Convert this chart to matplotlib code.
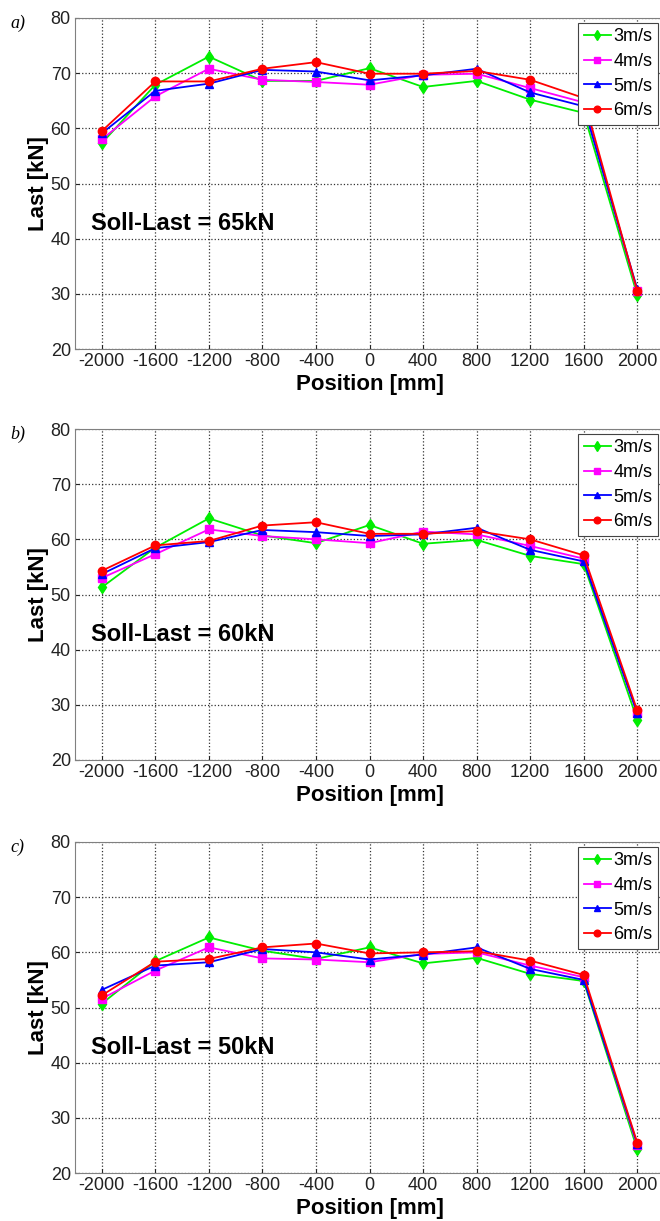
import numpy as np
import matplotlib.pyplot as plt

plt.rcParams['font.family'] = ['Liberation Sans', 'DejaVu Sans']
plt.rcParams['axes.unicode_minus'] = False

# Positionen entlang der Messstrecke [mm]
position = [-2000, -1600, -1200, -800, -400, 0, 400, 800, 1200, 1600, 2000]
speeds = ['3m/s', '4m/s', '5m/s', '6m/s']

# a) Soll-Last 65 kN
last_a_3 = [57.3, 67.9, 73.0, 68.6, 68.6, 70.9, 67.5, 68.6, 65.2, 62.8, 29.8]
last_a_4 = [58.0, 65.8, 70.8, 68.8, 68.4, 67.9, 69.7, 69.9, 67.3, 64.7, 30.5]
last_a_5 = [59.1, 66.8, 68.1, 70.6, 70.3, 68.7, 69.6, 70.8, 66.5, 64.0, 30.9]
last_a_6 = [59.5, 68.5, 68.5, 70.8, 72.0, 69.9, 69.9, 70.4, 68.8, 65.5, 30.6]

# b) Soll-Last 60 kN
last_b_3 = [51.3, 58.5, 63.8, 60.7, 59.3, 62.6, 59.2, 59.9, 57.0, 55.5, 27.3]
last_b_4 = [53.0, 57.3, 61.8, 60.6, 60.0, 59.3, 61.4, 60.9, 58.8, 56.5, 28.5]
last_b_5 = [53.7, 58.4, 59.5, 61.7, 61.3, 60.6, 60.9, 62.1, 58.1, 56.0, 28.5]
last_b_6 = [54.3, 58.9, 59.7, 62.5, 63.1, 61.0, 61.0, 61.5, 60.0, 57.1, 29.0]

# c) Soll-Last 50 kN
last_c_3 = [50.7, 58.4, 62.7, 60.3, 58.8, 60.9, 58.0, 59.0, 56.1, 54.8, 24.3]
last_c_4 = [51.6, 56.7, 60.9, 58.9, 58.7, 58.2, 59.7, 60.0, 57.6, 55.5, 25.0]
last_c_5 = [53.2, 57.6, 58.2, 60.6, 60.0, 58.7, 59.6, 60.9, 57.0, 55.0, 25.3]
last_c_6 = [52.2, 58.3, 58.8, 60.9, 61.6, 59.8, 60.0, 60.2, 58.5, 55.9, 25.5]

panels = [
    ('a)', 'Soll-Last = 65kN', [last_a_3, last_a_4, last_a_5, last_a_6]),
    ('b)', 'Soll-Last = 60kN', [last_b_3, last_b_4, last_b_5, last_b_6]),
    ('c)', 'Soll-Last = 50kN', [last_c_3, last_c_4, last_c_5, last_c_6]),
]

colors = ['#00ee00', '#ff00ff', '#0000ff', '#ff0000']
markers = ['d', 's', '^', 'o']

fig = plt.figure(figsize=(6.6, 12.21), dpi=100)
W, H = 660.0, 1221.0
tops = [18, 429, 842]
ax_h = 331
left, right = 75, 664

for (tag, soll, series), top in zip(panels, tops):
    ax = fig.add_axes([left / W, 1 - (top + ax_h) / H, (right - left) / W, ax_h / H])
    for vals, lab, c, m in zip(series, speeds, colors, markers):
        ax.plot(position, vals, color=c, marker=m, markersize=6, linewidth=1.3, label=lab)
    ax.set_xlim(-2200, 2200)
    ax.set_ylim(20, 80)
    ax.set_xticks(position)
    ax.set_yticks([20, 30, 40, 50, 60, 70, 80])
    ax.tick_params(direction='in', length=3, labelsize=13, colors='#222222', pad=3)
    ax.grid(True, linestyle=':', color='#333333', linewidth=0.9)
    for sp in ax.spines.values():
        sp.set_color('#808080')
    ax.set_xlabel('Position [mm]', fontsize=16, fontweight='bold', labelpad=3)
    ax.set_ylabel('Last [kN]', fontsize=16, fontweight='bold', labelpad=1)
    ax.text(0.027, 0.38, soll, transform=ax.transAxes, fontsize=17,
            fontweight='bold', va='center', ha='left')
    fig.text(10 / W, 1 - (top + 5) / H, tag, family='Liberation Serif',
             style='italic', fontsize=13, va='center')
    leg = ax.legend(loc='upper right', fontsize=13, fancybox=False, framealpha=1,
                    edgecolor='#444444', handlelength=1.5, handletextpad=0.15,
                    borderpad=0.3, labelspacing=0.42, borderaxespad=0.0,
                    markerscale=0.8,
                    bbox_to_anchor=((658 - left) / (right - left), 0.985))
    leg.get_frame().set_linewidth(0.8)

fig.savefig('out.png', dpi=100)
